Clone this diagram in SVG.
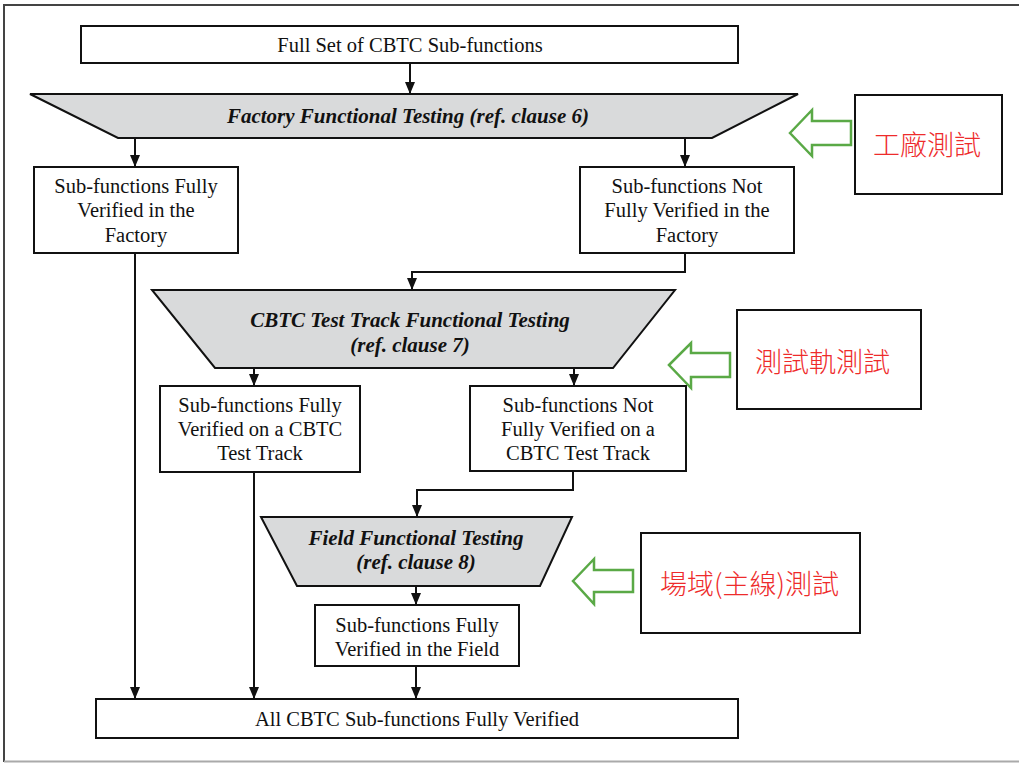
<svg xmlns="http://www.w3.org/2000/svg" width="1019" height="763" viewBox="0 0 1019 763">
<defs>
<style>
.box{fill:#fff;stroke:#111;stroke-width:2}
.trap{fill:#d9dadb;stroke:#111;stroke-width:2}
.t{font-family:"Liberation Serif",serif;font-size:20.5px;fill:#111;text-anchor:middle}
.ti{font-family:"Liberation Serif",serif;font-size:21px;font-weight:bold;font-style:italic;fill:#111;text-anchor:middle}
.ln{fill:none;stroke:#111;stroke-width:2}
.note{fill:#fff;stroke:#111;stroke-width:2}
.cjk{font-family:"Noto Sans CJK TC","Noto Sans CJK SC",sans-serif;font-size:27px;font-weight:300;fill:#ee2b2b}
.garrow{fill:#fff;stroke:#5aa946;stroke-width:2.5}
</style>
<marker id="ah" markerWidth="12" markerHeight="12" viewBox="0 0 12 12" refX="12" refY="6" orient="auto" markerUnits="userSpaceOnUse">
<path d="M0,1 L12,6 L0,11 Z" fill="#111"/>
</marker>
</defs>
<rect width="1019" height="763" fill="#fff"/>
<path d="M4,762 L4,5 L1019,5" fill="none" stroke="#444" stroke-width="2"/>
<line x1="4" y1="761.5" x2="1019" y2="761.5" stroke="#aaa" stroke-width="2"/>

<g id="connectors">
<line class="ln" x1="410" y1="63" x2="410" y2="94" marker-end="url(#ah)"/>
<line class="ln" x1="135" y1="138" x2="135" y2="167" marker-end="url(#ah)"/>
<line class="ln" x1="685" y1="138" x2="685" y2="167" marker-end="url(#ah)"/>
<line class="ln" x1="135" y1="253" x2="135" y2="699" marker-end="url(#ah)"/>
<polyline class="ln" points="685,253 685,272 412,272 412,290" marker-end="url(#ah)"/>
<line class="ln" x1="254" y1="368" x2="254" y2="386" marker-end="url(#ah)"/>
<line class="ln" x1="574" y1="368" x2="574" y2="386" marker-end="url(#ah)"/>
<line class="ln" x1="254" y1="472" x2="254" y2="699" marker-end="url(#ah)"/>
<polyline class="ln" points="573,471 573,490 417,490 417,517" marker-end="url(#ah)"/>
<line class="ln" x1="416" y1="586" x2="416" y2="605" marker-end="url(#ah)"/>
<line class="ln" x1="416" y1="666" x2="416" y2="699" marker-end="url(#ah)"/>
</g>

<g id="n_full">
<rect class="box" x="81" y="26" width="657" height="37"/>
<text class="t" x="410" y="52">Full Set of CBTC Sub-functions</text>
</g>

<g id="n_factory_test">
<polygon class="trap" points="30,94 798,94 712,138 118,138"/>
<text class="ti" x="408" y="123">Factory Functional Testing (ref. clause 6)</text>
</g>

<g id="n_factory_ok">
<rect class="box" x="34" y="167" width="204" height="86"/>
<text class="t" x="136" y="193">Sub-functions Fully</text>
<text class="t" x="136" y="217">Verified in the</text>
<text class="t" x="136" y="242">Factory</text>
</g>

<g id="n_factory_not">
<rect class="box" x="580" y="167" width="214" height="86"/>
<text class="t" x="687" y="193">Sub-functions Not</text>
<text class="t" x="687" y="217">Fully Verified in the</text>
<text class="t" x="687" y="242">Factory</text>
</g>

<g id="n_track_test">
<polygon class="trap" points="152,290 675,290 613,368 215,368"/>
<text class="ti" x="410" y="327">CBTC Test Track Functional Testing</text>
<text class="ti" x="410" y="352">(ref. clause 7)</text>
</g>

<g id="n_track_ok">
<rect class="box" x="160" y="386" width="200" height="86"/>
<text class="t" x="260" y="412">Sub-functions Fully</text>
<text class="t" x="260" y="436">Verified on a CBTC</text>
<text class="t" x="260" y="460">Test Track</text>
</g>

<g id="n_track_not">
<rect class="box" x="470" y="386" width="216" height="85"/>
<text class="t" x="578" y="412">Sub-functions Not</text>
<text class="t" x="578" y="436">Fully Verified on a</text>
<text class="t" x="578" y="460">CBTC Test Track</text>
</g>

<g id="n_field_test">
<polygon class="trap" points="261,517 572,517 540,586 297,586"/>
<text class="ti" x="416" y="545">Field Functional Testing</text>
<text class="ti" x="416" y="569">(ref. clause 8)</text>
</g>

<g id="n_field_ok">
<rect class="box" x="315" y="605" width="204" height="61"/>
<text class="t" x="417" y="632">Sub-functions Fully</text>
<text class="t" x="417" y="656">Verified in the Field</text>
</g>

<g id="n_all">
<rect class="box" x="96" y="699" width="642" height="39"/>
<text class="t" x="417" y="726">All CBTC Sub-functions Fully Verified</text>
</g>

<g id="note1">
<rect class="note" x="855" y="95" width="147" height="99"/>
<text class="cjk" x="873" y="155">工廠測試</text>
<polygon class="garrow" points="790,133 812,110 812,121 851,121 851,145 812,145 812,156"/>
</g>

<g id="note2">
<rect class="note" x="737" y="310" width="184" height="99"/>
<text class="cjk" x="755" y="372">測試軌測試</text>
<polygon class="garrow" points="669,365 691,343 691,353 730,353 730,377 691,377 691,388"/>
</g>

<g id="note3">
<rect class="note" x="641" y="533" width="219" height="100"/>
<text class="cjk" x="660" y="594">場域(主線)測試</text>
<polygon class="garrow" points="573,581 594,559 594,570 633,570 633,592 594,592 594,604"/>
</g>
</svg>
